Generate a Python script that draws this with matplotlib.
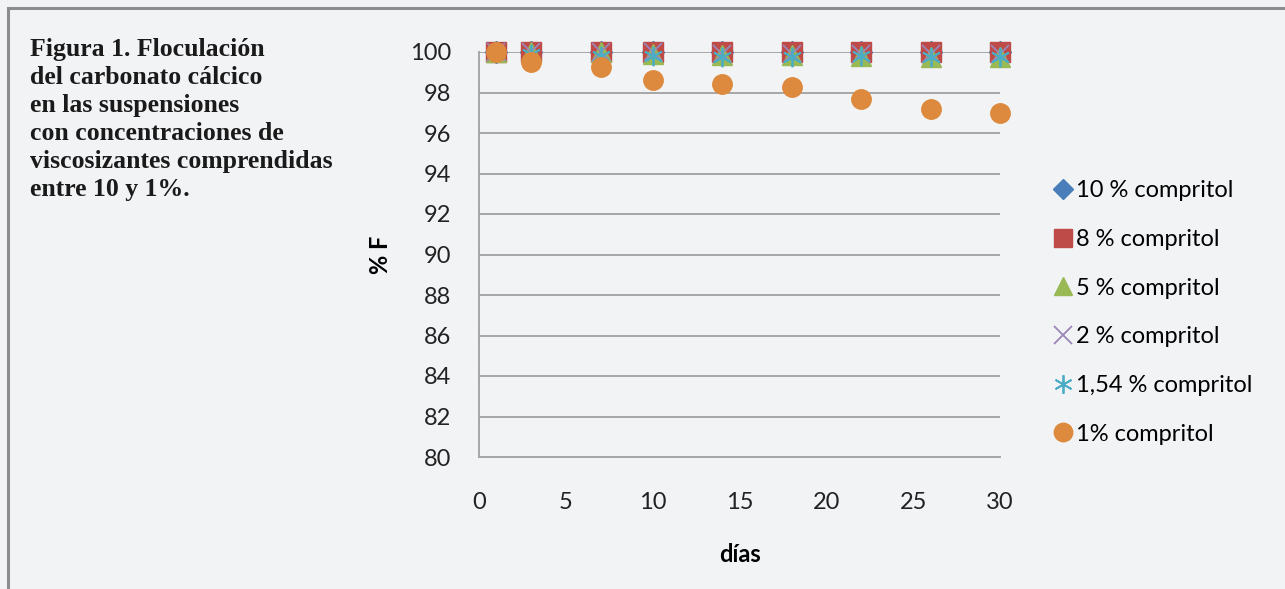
import matplotlib.pyplot as plt
from matplotlib.patches import Rectangle

# datos
dias = [1, 3, 7, 10, 14, 18, 22, 26, 30]
c10 = [100, 100, 100, 100, 100, 100, 100, 100, 100]
c8 = [100, 100, 100, 100, 100, 100, 100, 100, 100]
c5 = [100, 100, 100, 99.9, 99.85, 99.85, 99.8, 99.75, 99.75]
c2 = [100, 100, 100, 100, 99.9, 99.9, 99.9, 99.9, 99.9]
c154 = [100, 99.9, 99.8, 99.8, 99.75, 99.75, 99.8, 99.75, 99.75]
c1 = [100, 99.5, 99.25, 98.6, 98.4, 98.25, 97.7, 97.2, 97.0]
etiquetas = ['10 % compritol', '8 % compritol', '5 % compritol',
             '2 % compritol', '1,54 % compritol', '1% compritol']
yticks = list(range(80, 101, 2))
xticks = [0, 5, 10, 15, 20, 25, 30]

plt.rcParams['font.family'] = ['Lato', 'DejaVu Sans']
bg = '#f2f3f5'

fig = plt.figure(figsize=(12.85, 5.89), dpi=100, facecolor=bg)
fig.patches.append(Rectangle((8 / 1285, -0.1), 1.2, (581 / 589) + 0.1,
                             transform=fig.transFigure, fill=False,
                             edgecolor='#8c8c8c', linewidth=2.2))

ax = fig.add_axes([479 / 1285, 1 - 457 / 589, 521 / 1285, 405 / 589])
ax.set_facecolor(bg)

ax.plot(dias, c10, 'D', color='#4a7ebb', markersize=11, label=etiquetas[0], clip_on=False)
ax.plot(dias, c8, 's', color='#be4b48', markersize=14, label=etiquetas[1], clip_on=False)
ax.plot(dias, c5, '^', color='#98b954', markersize=14, label=etiquetas[2], clip_on=False)
ax.plot(dias, c2, 'x', color='#9a86b8', markersize=13, markeredgewidth=1.3,
        label=etiquetas[3], clip_on=False)
ax.plot(dias, c154, linestyle='none', marker=(6, 2, 0), color='#4bacc6',
        markersize=14, markeredgewidth=1.3, label=etiquetas[4], clip_on=False)
ax.plot(dias, c1, 'o', color='#dd8a3e', markersize=14, label=etiquetas[5], clip_on=False)

ax.set_xlim(0, 30)
ax.set_ylim(80, 100)
ax.set_xticks(xticks)
ax.set_yticks(yticks)
ax.grid(axis='y', color='#a6a6a6', linewidth=1.4)
ax.set_axisbelow(True)
for s in ['top', 'right']:
    ax.spines[s].set_visible(False)
for s in ['left', 'bottom']:
    ax.spines[s].set_color('#a6a6a6')
    ax.spines[s].set_linewidth(1.4)
ax.tick_params(axis='x', length=0, pad=25, labelsize=17, colors='#222222')
ax.tick_params(axis='y', length=0, pad=20, labelsize=17, colors='#222222')

ax.set_xlabel('días', fontsize=17, fontweight='bold', labelpad=22)
ax.set_ylabel('% F', fontsize=17, fontweight='bold', labelpad=13)

leg = ax.legend(loc='upper left', bbox_to_anchor=(1045 / 1285, 1 - 171 / 589),
                bbox_transform=fig.transFigure, frameon=False, fontsize=17,
                handlelength=0.7, handletextpad=0.2, labelspacing=1.17,
                borderaxespad=0, markerscale=0.95)

titulo = ('Figura 1. Floculación\ndel carbonato cálcico\nen las suspensiones\n'
          'con concentraciones de\nviscosizantes comprendidas\nentre 10 y 1%.')
fig.text(30 / 1285, 1 - 38 / 589, titulo, fontsize=18.5, fontweight='bold',
         family=['Liberation Serif', 'DejaVu Serif'], va='top', ha='left',
         linespacing=1.28, color='#1a1a1a')

fig.savefig('out.png', dpi=100, facecolor=bg)
